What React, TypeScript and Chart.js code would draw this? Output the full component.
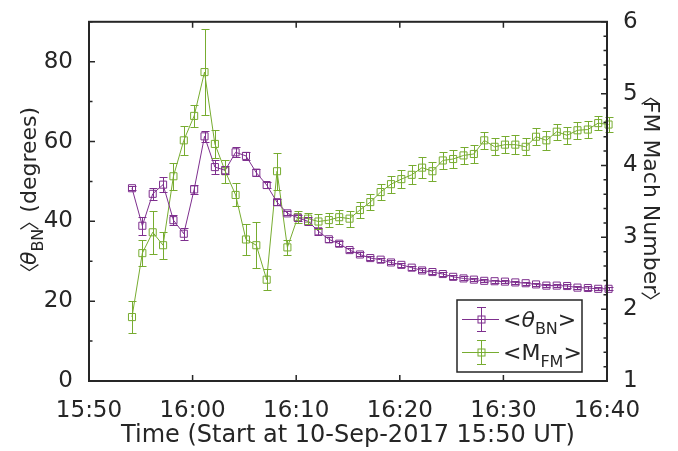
import React, { useEffect, useRef } from 'react';
import { Chart, registerables } from 'chart.js';

Chart.register(...registerables);

// minutes after 15:50 UT
const times = [
  4.15, 5.15, 6.15, 7.15, 8.15, 9.15, 10.15, 11.15, 12.15, 13.15,
  14.15, 15.15, 16.15, 17.15, 18.15, 19.15, 20.15, 21.15, 22.15, 23.15,
  24.15, 25.15, 26.15, 27.15, 28.15, 29.15, 30.15, 31.15, 32.15, 33.15,
  34.15, 35.15, 36.15, 37.15, 38.15, 39.15, 40.15, 41.15, 42.15, 43.15,
  44.15, 45.15, 46.15, 47.15, 48.15, 49.15, 50.15,
];

const thetaBN = [
  48.3, 38.9, 46.9, 49.2, 40.3, 36.9, 48.0, 61.3, 53.6, 52.8,
  57.3, 56.4, 52.2, 49.1, 44.8, 42.0, 40.9, 40.0, 37.5, 35.5,
  34.4, 32.8, 31.7, 30.8, 30.4, 29.7, 29.1, 28.4, 27.7, 27.3,
  26.8, 26.1, 25.7, 25.4, 25.1, 25.0, 24.9, 24.7, 24.5, 24.2,
  23.9, 23.9, 23.8, 23.4, 23.3, 23.1, 23.1,
];

const thetaErr = [
  0.5, 2.2, 1.5, 1.8, 1.2, 1.5, 1.2, 1.3, 1.7, 1.0,
  1.3, 1.0, 0.9, 0.8, 0.8, 0.5, 0.7, 1.0, 0.8, 0.6,
  0.7, 0.5, 0.5, 0.5, 0.5, 0.5, 0.5, 0.5, 0.5, 0.5,
  0.5, 0.5, 0.5, 0.4, 0.4, 0.4, 0.4, 0.4, 0.4, 0.4,
  0.4, 0.4, 0.4, 0.4, 0.4, 0.4, 0.4,
];

const machFM = [
  1.89, 2.78, 3.07, 2.89, 3.85, 4.35, 4.69, 5.30, 4.30, 3.92,
  3.59, 2.97, 2.89, 2.41, 3.92, 2.86, 3.28, 3.26, 3.22, 3.24,
  3.28, 3.26, 3.38, 3.49, 3.63, 3.74, 3.81, 3.87, 3.97, 3.92,
  4.07, 4.09, 4.14, 4.16, 4.35, 4.26, 4.29, 4.29, 4.26, 4.40,
  4.35, 4.47, 4.42, 4.49, 4.50, 4.59, 4.57,
];

const machErr = [
  0.22, 0.18, 0.30, 0.19, 0.19, 0.20, 0.15, 0.60, 0.20, 0.16,
  0.16, 0.21, 0.32, 0.15, 0.26, 0.10, 0.08, 0.08, 0.10, 0.10,
  0.10, 0.11, 0.11, 0.11, 0.11, 0.12, 0.13, 0.13, 0.15, 0.13,
  0.12, 0.12, 0.12, 0.12, 0.12, 0.12, 0.12, 0.13, 0.12, 0.12,
  0.13, 0.11, 0.12, 0.12, 0.12, 0.10, 0.10,
];

const startHour = 15;
const startMinute = 50;
const xTitle = 'Time (Start at 10-Sep-2017 15:50 UT)';

const PURPLE = '#7E2F8E';
const GREEN = '#77AC30';
const INK = '#262626';
const FONT = "'DejaVu Sans'";
const BRACKET_FONT = "20px 'Noto Sans CJK SC'";

function fmtTime(v: number) {
  const m = startHour * 60 + startMinute + Math.round(v);
  const h = Math.floor(m / 60);
  const mm = m % 60;
  return `${h}:${mm < 10 ? '0' + mm : mm}`;
}

const errors: Record<number, number[]> = { 0: thetaErr, 1: machErr };

const errorBarPlugin = {
  id: 'errorBars',
  afterDatasetsDraw(chart: any) {
    const ctx = chart.ctx;
    chart.data.datasets.forEach((ds: any, i: number) => {
      const meta = chart.getDatasetMeta(i);
      const scale = chart.scales[meta.yAxisID];
      const errs = errors[i];
      ctx.save();
      ctx.strokeStyle = ds.borderColor;
      ctx.lineWidth = 1;
      meta.data.forEach((pt: any, j: number) => {
        const v = ds.data[j].y;
        const e = errs[j];
        const yt = Math.round(scale.getPixelForValue(v + e)) + 0.5;
        const yb = Math.round(scale.getPixelForValue(v - e)) + 0.5;
        const x = Math.round(pt.x) + 0.5;
        ctx.beginPath();
        ctx.moveTo(x, yt);
        ctx.lineTo(x, yb);
        ctx.moveTo(x - 4, yt);
        ctx.lineTo(x + 4, yt);
        ctx.moveTo(x - 4, yb);
        ctx.lineTo(x + 4, yb);
        ctx.stroke();
      });
      ctx.restore();
    });
  },
};

type Part = { t: string; f: string; dy?: number; pb?: number; pa?: number };

function drawSeq(ctx: CanvasRenderingContext2D, parts: Part[], x: number, y: number) {
  let cx = x;
  for (const p of parts) {
    ctx.font = p.f;
    cx += p.pb || 0;
    ctx.fillText(p.t, cx, y + (p.dy || 0));
    cx += ctx.measureText(p.t).width + (p.pa || 0);
  }
  return cx;
}

function seqWidth(ctx: CanvasRenderingContext2D, parts: Part[]) {
  let w = 0;
  for (const p of parts) {
    ctx.font = p.f;
    w += ctx.measureText(p.t).width + (p.pb || 0) + (p.pa || 0);
  }
  return w;
}

const frameplugin = {
  id: 'frame',
  afterDraw(chart: any) {
    const ctx: CanvasRenderingContext2D = chart.ctx;
    const a = chart.chartArea;
    const xs = chart.scales.x;
    const ys = chart.scales.y;
    const y1 = chart.scales.y1;
    ctx.save();
    ctx.strokeStyle = INK;
    ctx.lineWidth = 1.5;
    ctx.beginPath();
    // x ticks (bottom and top)
    for (let v = 0; v <= 50; v += 10) {
      const x = xs.getPixelForValue(v);
      ctx.moveTo(x, a.bottom);
      ctx.lineTo(x, a.bottom - 6);
      ctx.moveTo(x, a.top);
      ctx.lineTo(x, a.top + 6);
    }
    // left ticks
    for (let v = 0; v <= 90; v += 10) {
      const y = ys.getPixelForValue(v);
      const len = v % 20 === 0 ? 6 : 3.5;
      ctx.moveTo(a.left, y);
      ctx.lineTo(a.left + len, y);
    }
    // right ticks
    for (let k = 0; k <= 25; k++) {
      const v = 1 + k * 0.2;
      const y = y1.getPixelForValue(v);
      const len = k % 5 === 0 ? 6 : 3.5;
      ctx.moveTo(a.right, y);
      ctx.lineTo(a.right - len, y);
    }
    ctx.stroke();
    ctx.lineWidth = 2;
    ctx.strokeRect(a.left, a.top, a.right - a.left, a.bottom - a.top);

    // Axis titles
    ctx.fillStyle = INK;
    ctx.textBaseline = 'alphabetic';
    ctx.textAlign = 'left';
    const big = `24px ${FONT}`;
    const mid = `22px ${FONT}`;
    const it = `italic 22px ${FONT}`;
    const sub = `16px ${FONT}`;

    // bottom title
    ctx.font = big;
    const tw = ctx.measureText(xTitle).width;
    ctx.fillText(xTitle, (a.left + a.right) / 2 - tw / 2, 442);

    // left title
    const leftParts: Part[] = [
      { t: '\u3008', f: BRACKET_FONT, dy: 1, pa: -2 },
      { t: '\u03B8', f: it },
      { t: 'BN', f: sub, dy: 7 },
      { t: '\u3009', f: BRACKET_FONT, dy: 1, pb: -2, pa: -9 },
      { t: ' (degrees)', f: mid },
    ];
    ctx.save();
    ctx.translate(28, 195);
    ctx.rotate(-Math.PI / 2);
    const lw = seqWidth(ctx, leftParts);
    drawSeq(ctx, leftParts, -lw / 2, 8);
    ctx.restore();

    // right title
    const rightParts: Part[] = [
      { t: '\u3008', f: BRACKET_FONT, dy: 1, pa: -5 },
      { t: 'FM Mach Number', f: mid },
      { t: '\u3009', f: BRACKET_FONT, dy: 1, pb: -2 },
    ];
    ctx.save();
    ctx.translate(652, 198.5);
    ctx.rotate(Math.PI / 2);
    const rw = seqWidth(ctx, rightParts);
    drawSeq(ctx, rightParts, -rw / 2, 8);
    ctx.restore();

    // legend
    const lx = 457, ly = 300, lwid = 125, lh = 72;
    ctx.fillStyle = '#ffffff';
    ctx.fillRect(lx, ly, lwid, lh);
    ctx.strokeStyle = INK;
    ctx.lineWidth = 1.5;
    ctx.strokeRect(lx, ly, lwid, lh);
    const entries: { color: string; y: number; parts: Part[] }[] = [
      { color: PURPLE, y: 319, parts: [{ t: '<', f: `22px ${FONT}` }, { t: '\u03B8', f: `italic 22px ${FONT}` }, { t: 'BN', f: `16px ${FONT}`, dy: 7 }, { t: '>', f: `22px ${FONT}` }] },
      { color: GREEN, y: 352, parts: [{ t: '<M', f: `22px ${FONT}` }, { t: 'FM', f: `16px ${FONT}`, dy: 7 }, { t: '>', f: `22px ${FONT}` }] },
    ];
    for (const e of entries) {
      ctx.strokeStyle = e.color;
      ctx.lineWidth = 1;
      ctx.beginPath();
      ctx.moveTo(462, e.y + 0.5);
      ctx.lineTo(499, e.y + 0.5);
      ctx.moveTo(481.5, e.y - 12);
      ctx.lineTo(481.5, e.y + 12);
      ctx.moveTo(477, e.y - 11.5);
      ctx.lineTo(486, e.y - 11.5);
      ctx.moveTo(477, e.y + 12.5);
      ctx.lineTo(486, e.y + 12.5);
      ctx.stroke();
      ctx.strokeRect(478, e.y - 3, 7, 7);
      ctx.fillStyle = INK;
      drawSeq(ctx, e.parts, 503, e.y + 8);
    }
    ctx.restore();
  },
};

export default function App() {
  const ref = useRef<HTMLCanvasElement | null>(null);
  useEffect(() => {
    if (!ref.current) return;
    Chart.defaults.font.family = FONT;
    const chart = new Chart(ref.current, {
      type: 'line',
      data: {
        datasets: [
          {
            label: '<θBN>',
            data: times.map((t, i) => ({ x: t, y: thetaBN[i] })),
            yAxisID: 'y',
            borderColor: PURPLE,
            backgroundColor: 'rgba(0,0,0,0)',
            borderWidth: 1,
            pointStyle: 'rect',
            pointRadius: 5,
            pointBorderWidth: 1,
            pointBorderColor: PURPLE,
            pointBackgroundColor: 'rgba(0,0,0,0)',
            tension: 0,
            clip: false as any,
          },
          {
            label: '<MFM>',
            data: times.map((t, i) => ({ x: t, y: machFM[i] })),
            yAxisID: 'y1',
            borderColor: GREEN,
            backgroundColor: 'rgba(0,0,0,0)',
            borderWidth: 1,
            pointStyle: 'rect',
            pointRadius: 5,
            pointBorderWidth: 1,
            pointBorderColor: GREEN,
            pointBackgroundColor: 'rgba(0,0,0,0)',
            tension: 0,
            clip: false as any,
          },
        ],
      },
      options: {
        animation: false,
        responsive: false,
        layout: { padding: { top: 14, left: 0, right: 0, bottom: 0 } },
        plugins: { legend: { display: false }, tooltip: { enabled: false }, title: { display: false } },
        scales: {
          x: {
            type: 'linear',
            min: 0,
            max: 50,
            grid: { display: false },
            border: { display: false },
            ticks: {
              stepSize: 10,
              padding: 8,
              color: INK,
              font: { size: 23, family: FONT },
              maxRotation: 0,
              callback: (v: any) => fmtTime(Number(v)),
            },
            afterFit: (s: any) => { s.height = 70; },
          },
          y: {
            position: 'left',
            min: 0,
            max: 90,
            grid: { display: false },
            border: { display: false },
            ticks: { stepSize: 20, includeBounds: false, padding: 8, color: INK, font: { size: 23, family: FONT } },
            afterFit: (s: any) => { s.width = 89; },
          },
          y1: {
            position: 'right',
            min: 1,
            max: 6,
            grid: { display: false },
            border: { display: false },
            ticks: { stepSize: 1, padding: 8, color: INK, font: { size: 23, family: FONT } },
            afterFit: (s: any) => { s.width = 71; },
          },
        },
      } as any,
      plugins: [errorBarPlugin, frameplugin],
    });
    return () => chart.destroy();
  }, []);
  return (
    <div style={{ position: 'fixed', left: 0, top: 0, width: 678, height: 451, background: '#fff' }}>
      <canvas ref={ref} width={678} height={451} />
    </div>
  );
}
